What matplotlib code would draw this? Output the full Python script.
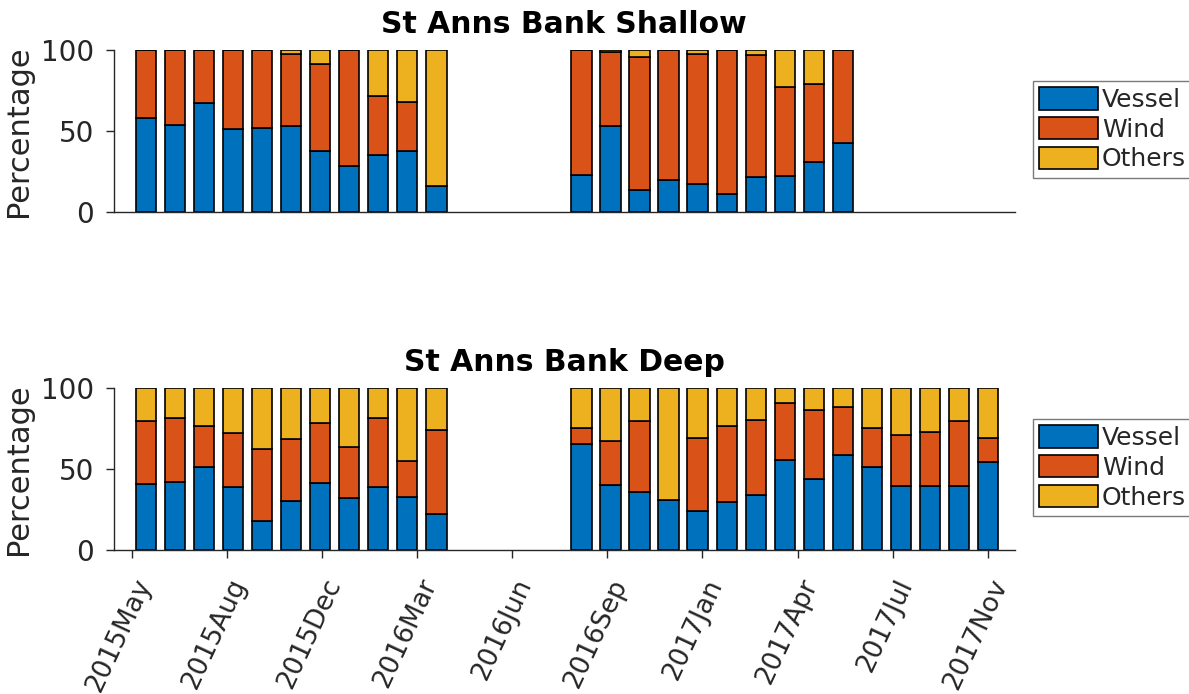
import numpy as np
import matplotlib
matplotlib.use("Agg")
import matplotlib.pyplot as plt
from matplotlib.transforms import ScaledTranslation

# Monthly source shares (percent); NaN marks months with no recording
shallow_vessel = [58, 54, 67, 51, 52, 53, 37.5, 28.5, 35, 37.5, 16.3,
                  np.nan, np.nan, np.nan, np.nan,
                  23.1, 53, 13.6, 19.8, 17.1, 11.1, 21.4, 22.3, 30.7, 42.9,
                  np.nan, np.nan, np.nan, np.nan, np.nan]
shallow_wind = [42, 46, 33, 49, 48, 44.5, 54, 71.5, 36.8, 30.3, 0,
                np.nan, np.nan, np.nan, np.nan,
                76.9, 46, 82.3, 80.2, 80.4, 88.9, 75.3, 54.6, 48.3, 57.1,
                np.nan, np.nan, np.nan, np.nan, np.nan]
shallow_others = [0, 0, 0, 0, 0, 2.5, 8.5, 0, 28.2, 32.2, 83.7,
                  np.nan, np.nan, np.nan, np.nan,
                  0, 1, 4.1, 0, 2.5, 0, 3.3, 23.1, 21, 0,
                  np.nan, np.nan, np.nan, np.nan, np.nan]

deep_vessel = [41, 42.1, 51.5, 38.8, 18.1, 30.1, 41.2, 31.8, 38.8, 32.8, 22.3,
               np.nan, np.nan, np.nan, np.nan,
               65.2, 40.4, 36.1, 30.7, 24.1, 29.9, 34.2, 55.7, 43.7, 58.4,
               51.5, 39.6, 39.6, 39.6, 54.2]
deep_wind = [38.8, 39.3, 24.8, 33.2, 44, 38.6, 36.9, 31.7, 42.6, 22, 51.5,
             np.nan, np.nan, np.nan, np.nan,
             10.3, 26.6, 43.7, 0, 45.2, 46.4, 46.2, 35.2, 42.9, 29.8,
             23.8, 31.3, 33.4, 40.2, 14.9]
deep_others = [20.2, 18.6, 23.7, 28, 37.9, 31.3, 21.9, 36.5, 18.6, 45.2, 26.2,
               np.nan, np.nan, np.nan, np.nan,
               24.5, 33, 20.2, 69.3, 30.7, 23.7, 19.6, 9.1, 13.4, 11.8,
               24.7, 29.1, 27, 20.2, 30.9]

tick_labels = ["2015May", "2015Aug", "2015Dec", "2016Mar", "2016Jun",
               "2016Sep", "2017Jan", "2017Apr", "2017Jul", "2017Nov"]
series_names = ["Vessel", "Wind", "Others"]
colors = ["#0072BD", "#D95319", "#EDB120"]

axis_color = "#262626"
plt.rcParams["font.family"] = ["DejaVu Sans"]

W, H = 1189, 694
fig = plt.figure(figsize=(W / 100, H / 100), dpi=100)


def fig_rect(left, top, right, bottom):
    return [left / W, 1 - bottom / H, (right - left) / W, (bottom - top) / H]


ax_top = fig.add_axes(fig_rect(113.5, 50, 1015, 212))
ax_bot = fig.add_axes(fig_rect(113.5, 388, 1015, 550))

x = np.arange(1, len(deep_vessel) + 1)
ticks = np.linspace(0.5, 30, len(tick_labels))


def draw(ax, parts, title, show_xticks, legend_top):
    bottom = np.zeros(len(x))
    handles = []
    for vals, col, name in zip(parts, colors, series_names):
        v = np.array(vals, dtype=float)
        h = ax.bar(x, v, width=0.7, bottom=bottom, color=col,
                   edgecolor="black", linewidth=1.2, label=name)
        handles.append(h)
        bottom = bottom + np.nan_to_num(v)
    ax.set_xlim(-0.12, 30.93)
    ax.set_ylim(0, 100)
    ax.set_yticks([0, 50, 100])
    for s in ("top", "right"):
        ax.spines[s].set_visible(False)
    for s in ("left", "bottom"):
        ax.spines[s].set_color(axis_color)
        ax.spines[s].set_linewidth(1.0)
    ax.tick_params(axis="both", direction="out", length=6, width=1.0,
                   color=axis_color, labelcolor=axis_color, labelsize=20, pad=8)
    ax.set_ylabel("Percentage", fontsize=22, color=axis_color, labelpad=6)
    ax.set_title(title, fontsize=21.5, fontweight="bold", pad=12)
    if show_xticks:
        ax.set_xticks(ticks)
        ax.set_xticklabels(tick_labels, rotation=65, ha="right", va="center",
                           rotation_mode="anchor", fontsize=19)
        shift = ScaledTranslation(13 / 100, -11 / 100, fig.dpi_scale_trans)
        for lab in ax.get_xticklabels():
            lab.set_transform(lab.get_transform() + shift)
    else:
        ax.set_xticks([])
    leg = fig.legend(handles=handles, labels=series_names,
                     loc="upper left",
                     bbox_to_anchor=(1033 / W, 1 - legend_top / H),
                     fontsize=18, frameon=True, fancybox=False,
                     edgecolor="#7a7a7a", framealpha=1,
                     handlelength=2.35, handleheight=1.0,
                     handletextpad=0.15, labelspacing=0.2,
                     borderpad=0.25, borderaxespad=0)
    leg.get_frame().set_linewidth(1.0)
    for t in leg.get_texts():
        t.set_color(axis_color)


draw(ax_top, [shallow_vessel, shallow_wind, shallow_others],
     "St Anns Bank Shallow", False, 81)
draw(ax_bot, [deep_vessel, deep_wind, deep_others],
     "St Anns Bank Deep", True, 419)

fig.savefig("out.png", dpi=100)
